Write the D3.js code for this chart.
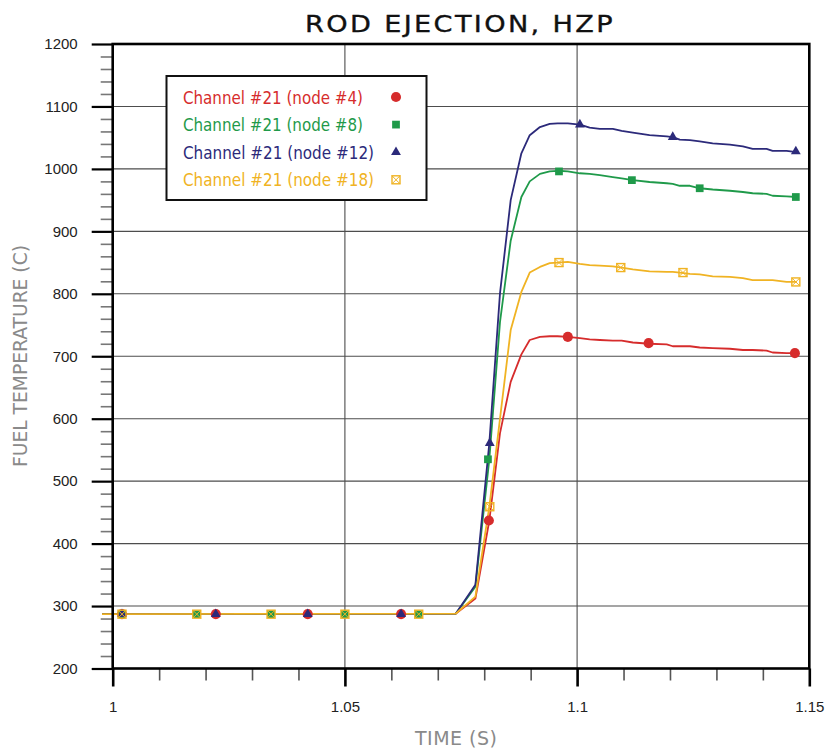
<!DOCTYPE html>
<html>
<head>
<meta charset="utf-8">
<script src="https://cdn.jsdelivr.net/npm/d3@7"></script>
<style>
  body { margin: 0; background: #fff; }
</style>
</head>
<body>
<svg id="chart" width="829" height="748"></svg>
<script>
// Time grid (s) shared by the four fuel temperature traces
const timeS = [0.9977, 1.0739, 1.0781, 1.0811, 1.0834, 1.0857, 1.0880, 1.0898, 1.0920, 1.0941,
  1.0958, 1.0980, 1.1006, 1.1027, 1.1049, 1.1077, 1.1096, 1.1120, 1.1156, 1.1193,
  1.1206, 1.1221, 1.1243, 1.1264, 1.1292, 1.1329, 1.1357, 1.1378, 1.1408, 1.1421,
  1.1451, 1.1473];

// Fuel temperature (C), channel #21
const node4 = [287, 288, 312, 437, 577, 659, 703, 726, 731, 732, 732, 731, 729, 727, 726, 725,
  725, 722, 720, 719, 716, 716, 716, 714, 713, 712, 710, 710, 709, 706, 705, 705];
const node8 = [287, 288, 331, 535, 755, 885, 955, 980, 992, 996, 997, 996, 993, 992, 990, 987,
  985, 982, 979, 977, 976, 973, 973, 969, 967, 965, 963, 961, 960, 957, 956, 955];
const node12 = [287, 288, 334, 561, 801, 950, 1025, 1054, 1067, 1072, 1073, 1073, 1071, 1066, 1064, 1064,
  1061, 1058, 1054, 1052, 1051, 1047, 1046, 1044, 1041, 1039, 1036, 1032, 1032, 1029, 1029, 1027];
const node18 = [287, 288, 315, 459, 600, 742, 803, 834, 843, 849, 850, 851, 848, 846, 845, 844,
  842, 839, 836, 835, 835, 834, 832, 831, 828, 827, 825, 822, 822, 822, 819, 819];

// Symbol positions along each trace
const mark4T = [1.0020, 1.0222, 1.0420, 1.0621, 1.0810, 1.0980, 1.1154, 1.1469];
const mark4V = [287, 287, 287, 287, 437, 731, 721, 705];
const mark8T = [1.0020, 1.0181, 1.0341, 1.0500, 1.0659, 1.0808, 1.0961, 1.1118, 1.1264, 1.1471];
const mark8V = [287, 287, 287, 287, 287, 535, 996, 982, 969, 955];
const mark12T = [1.0020, 1.0222, 1.0420, 1.0621, 1.0812, 1.1006, 1.1206, 1.1471];
const mark12V = [287, 287, 287, 287, 561, 1071, 1051, 1028];
const mark18T = [1.0020, 1.0181, 1.0341, 1.0500, 1.0659, 1.0812, 1.0961, 1.1094, 1.1228, 1.1471];
const mark18V = [287, 287, 287, 287, 287, 459, 850, 842, 834, 819];

const seriesLabels = ["Channel #21 (node #4)", "Channel #21 (node #8)",
  "Channel #21 (node #12)", "Channel #21 (node #18)"];

const yTicks = [200, 300, 400, 500, 600, 700, 800, 900, 1000, 1100, 1200];
const xTicks = [1, 1.05, 1.1, 1.15];
const xTickLabels = ["1", "1.05", "1.1", "1.15"];

const titleText = "ROD EJECTION, HZP";
const xTitle = "TIME (S)";
const yTitle = "FUEL TEMPERATURE (C)";

// ---------------------------------------------------------------
const series = [
  { t: timeS, v: node4, mt: mark4T, mv: mark4V, color: "#d62c2c", symbol: "circle", legendW: 180 },
  { t: timeS, v: node8, mt: mark8T, mv: mark8V, color: "#1f9a4a", symbol: "square", legendW: 180 },
  { t: timeS, v: node12, mt: mark12T, mv: mark12V, color: "#2c2a7a", symbol: "triangle", legendW: 191 },
  { t: timeS, v: node18, mt: mark18T, mv: mark18V, color: "#f0b323", symbol: "boxx", legendW: 191 }
];
series.forEach((s, i) => s.label = seriesLabels[i]);

const svg = d3.select("#chart");
const plotL = 112.7, plotR = 809.3, plotT = 44, plotB = 668.5;

const x = d3.scaleLinear().domain([1, 1.15]).range([plotL, plotR]);
const y = d3.scaleLinear().domain([200, 1200]).range([plotB, plotT]);

const strokeFont = "'DejaVu Sans', sans-serif";
const numFont = "'Liberation Sans', Arial, sans-serif";

// grid
const grid = svg.append("g").attr("class", "grid");
grid.selectAll("line.h").data(yTicks.filter(d => d > 200 && d < 1200)).join("line")
  .attr("class", "h")
  .attr("x1", plotL).attr("x2", plotR)
  .attr("y1", d => y(d)).attr("y2", d => y(d))
  .attr("stroke", "#4d4d4d").attr("stroke-width", 1.1);
grid.selectAll("line.v").data(xTicks.filter(d => d > 1 && d < 1.15)).join("line")
  .attr("class", "v")
  .attr("x1", d => x(d)).attr("x2", d => x(d))
  .attr("y1", plotT).attr("y2", plotB)
  .attr("stroke", "#4d4d4d").attr("stroke-width", 1.1);

// traces
const line = d3.line().x(d => x(d[0])).y(d => y(d[1]));
const traces = svg.append("g").attr("class", "traces");
series.forEach(s => {
  traces.append("path")
    .datum(s.t.map((t, i) => [t, s.v[i]]))
    .attr("d", line)
    .attr("fill", "none")
    .attr("stroke", s.color)
    .attr("stroke-width", 1.8)
    .attr("stroke-linejoin", "round");
});

// symbols
function drawSymbol(g, kind, color) {
  if (kind === "circle") {
    g.append("path").attr("d", d3.symbol(d3.symbolCircle, 80)()).attr("fill", color);
  } else if (kind === "square") {
    g.append("path").attr("d", d3.symbol(d3.symbolSquare, 60)()).attr("fill", color);
  } else if (kind === "triangle") {
    g.append("path").attr("d", d3.symbol(d3.symbolTriangle, 42)()).attr("fill", color);
  } else {
    const h = 4;
    g.append("rect").attr("x", -h).attr("y", -h).attr("width", 2 * h).attr("height", 2 * h)
      .attr("fill", "none").attr("stroke", color).attr("stroke-width", 1.4);
    g.append("path").attr("d", `M${-h},${-h}L${h},${h}M${h},${-h}L${-h},${h}`)
      .attr("stroke", color).attr("stroke-width", 1);
  }
}
const marks = svg.append("g").attr("class", "marks");
series.forEach(s => {
  s.mt.forEach((t, i) => {
    const g = marks.append("g").attr("transform", `translate(${x(t)},${y(s.mv[i])})`);
    drawSymbol(g, s.symbol, s.color);
  });
});

// axes
const yMinor = d3.range(200, 1201, 20).filter(d => d % 100 !== 0);
const xMinor = d3.range(0, 16).map(i => +(1 + i * 0.01).toFixed(2)).filter(d => Math.round(d * 100) % 5 !== 0);

const yMinorAxis = svg.append("g").attr("transform", `translate(${plotL},0)`)
  .call(d3.axisLeft(y).tickValues(yMinor).tickSize(12).tickFormat(""));
yMinorAxis.select(".domain").remove();
yMinorAxis.selectAll("line").attr("stroke", "#777").attr("stroke-width", 1.6);

const yAxis = svg.append("g").attr("transform", `translate(${plotL},0)`)
  .call(d3.axisLeft(y).tickValues(yTicks).tickSize(21).tickPadding(14).tickFormat(d3.format("d")));
yAxis.select(".domain").remove();
yAxis.selectAll("line").attr("stroke", "#000").attr("stroke-width", 2.2);
yAxis.selectAll("text").attr("font-family", numFont).attr("font-size", 15).attr("fill", "#222");

const xMinorAxis = svg.append("g").attr("transform", `translate(0,${plotB})`)
  .call(d3.axisBottom(x).tickValues(xMinor).tickSize(12).tickFormat(""));
xMinorAxis.select(".domain").remove();
xMinorAxis.selectAll("line").attr("stroke", "#555").attr("stroke-width", 1.6);

const xAxis = svg.append("g").attr("transform", `translate(0,${plotB})`)
  .call(d3.axisBottom(x).tickValues(xTicks).tickSize(18).tickPadding(15)
    .tickFormat((d, i) => xTickLabels[i]));
xAxis.select(".domain").remove();
xAxis.selectAll("line").attr("stroke", "#000").attr("stroke-width", 2.6);
xAxis.selectAll("text").attr("font-family", numFont).attr("font-size", 15).attr("fill", "#222");

// frame
svg.append("rect")
  .attr("x", plotL).attr("y", plotT)
  .attr("width", plotR - plotL).attr("height", plotB - plotT)
  .attr("fill", "none").attr("stroke", "#000").attr("stroke-width", 2.6);

// legend
const legend = svg.append("g").attr("class", "legend");
legend.append("rect")
  .attr("x", 166.5).attr("y", 76).attr("width", 260).attr("height", 124)
  .attr("fill", "#fff").attr("stroke", "#111").attr("stroke-width", 2);
series.forEach((s, i) => {
  const cy = 97 + i * 27.6;
  legend.append("text")
    .attr("x", 183).attr("y", cy + 6.5)
    .attr("font-family", strokeFont).attr("font-size", 17)
    .attr("textLength", s.legendW).attr("lengthAdjust", "spacingAndGlyphs")
    .attr("fill", s.color)
    .text(s.label);
  const g = legend.append("g").attr("transform", `translate(396,${cy})`);
  drawSymbol(g, s.symbol, s.color);
});

// titles
svg.append("text")
  .attr("x", 460).attr("y", 32)
  .attr("text-anchor", "middle")
  .attr("font-family", strokeFont).attr("font-size", 23)
  .attr("letter-spacing", 2)
  .attr("textLength", 310).attr("lengthAdjust", "spacingAndGlyphs")
  .attr("fill", "#111").attr("stroke", "#111").attr("stroke-width", 0.35)
  .text(titleText);

svg.append("text")
  .attr("x", 456).attr("y", 745)
  .attr("text-anchor", "middle")
  .attr("font-family", strokeFont).attr("font-size", 19)
  .attr("textLength", 82).attr("lengthAdjust", "spacing")
  .attr("fill", "#8a8a8a")
  .text(xTitle);

svg.append("text")
  .attr("transform", "translate(27,356) rotate(-90)")
  .attr("text-anchor", "middle")
  .attr("font-family", strokeFont).attr("font-size", 19)
  .attr("textLength", 222).attr("lengthAdjust", "spacingAndGlyphs")
  .attr("fill", "#8a8a8a")
  .text(yTitle);
</script>
</body>
</html>
